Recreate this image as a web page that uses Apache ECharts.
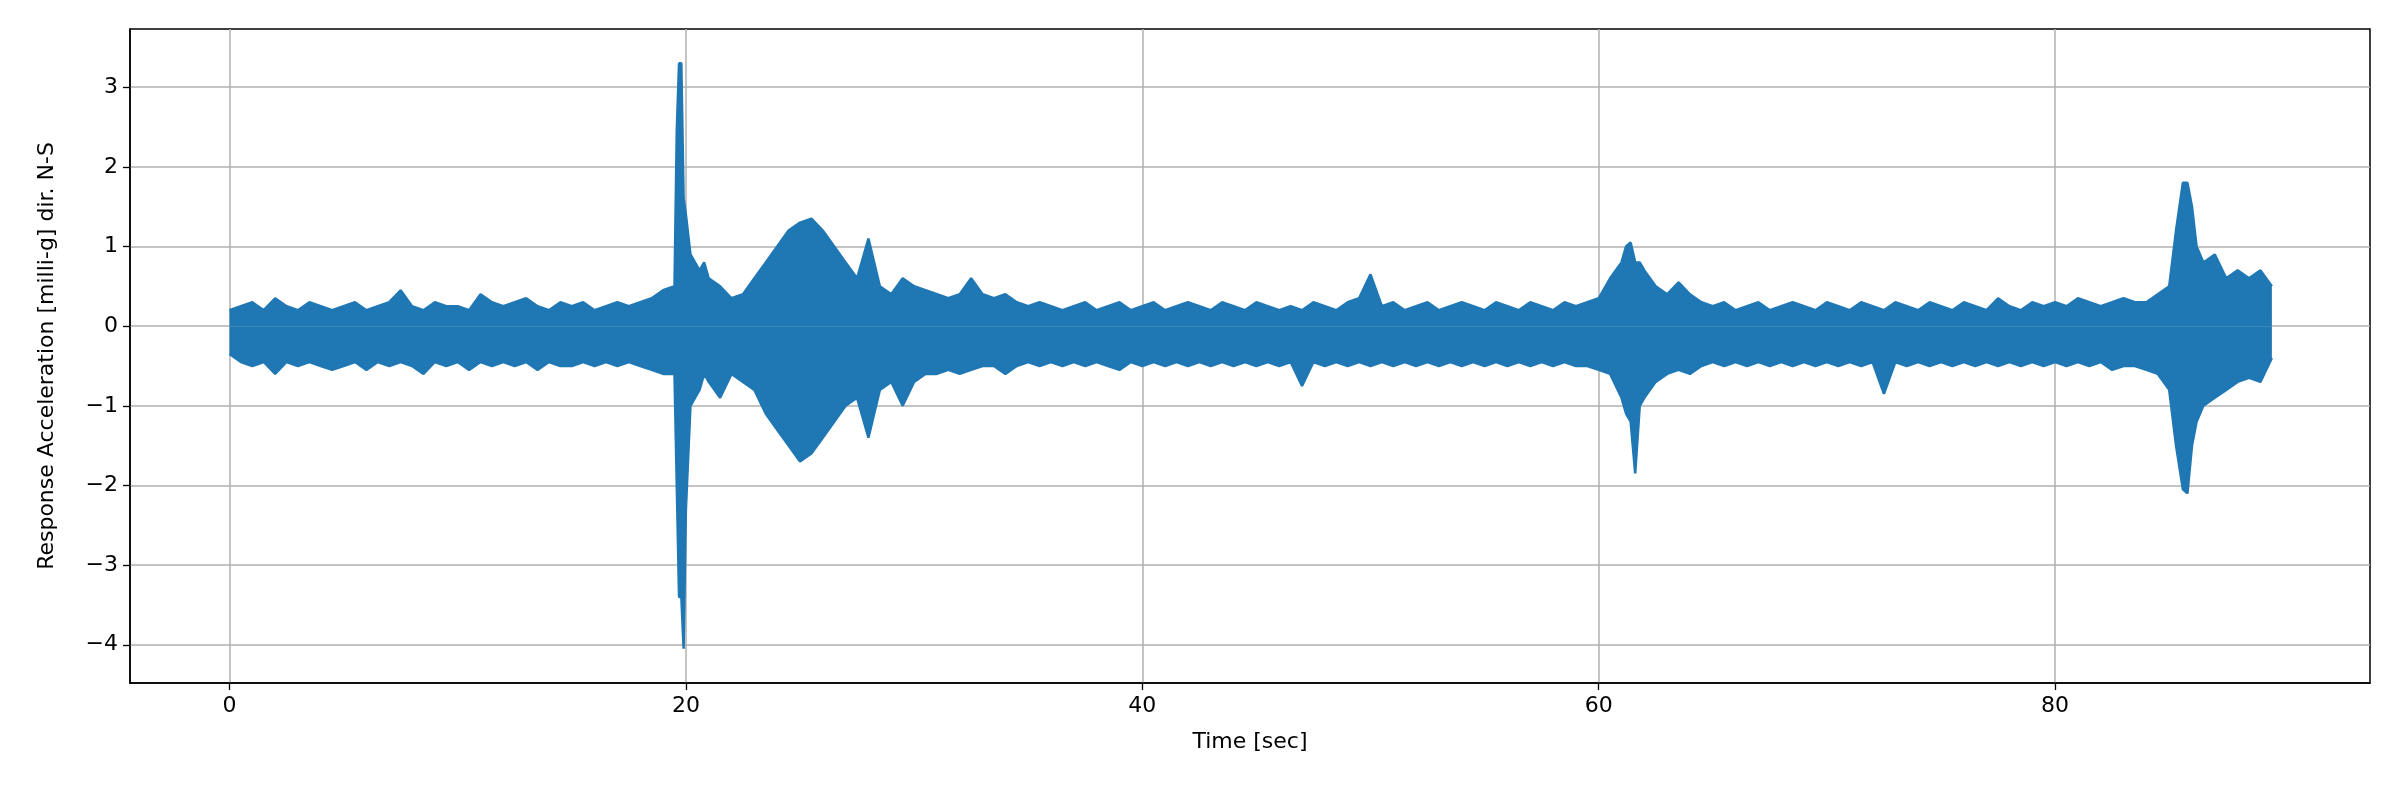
<!DOCTYPE html>
<html><head><meta charset="utf-8">
<script src="https://cdn.jsdelivr.net/npm/echarts@6/dist/echarts.min.js"></script>
<style>html,body{margin:0;background:#fff}#c{width:2400px;height:800px}</style>
</head><body><div id="c"></div>
<script>
const xTicks=[0,20,40,60,80];
const yTicks=[-4,-3,-2,-1,0,1,2,3];
const times=[
0,0.5,1,1.5,2,2.5,3,3.5,4,4.5,
5,5.5,6,6.5,7,7.5,8,8.5,9,9.5,
10,10.5,11,11.5,12,12.5,13,13.5,14,14.5,
15,15.5,16,16.5,17,17.5,18,18.5,19,19.5,
19.6,19.7,19.8,19.9,20.0,20.2,20.4,20.6,20.8,21.0,
21.5,22,22.5,23,23.5,24,24.5,25,25.5,26,
26.5,27,27.5,28,28.5,29,29.5,30,30.5,31,
31.5,32,32.5,33,33.5,34,34.5,35,35.5,36,
36.5,37,37.5,38,38.5,39,39.5,40,40.5,41,
41.5,42,42.5,43,43.5,44,44.5,45,45.5,46,
46.5,47,47.5,48,48.5,49,49.5,50,50.5,51,
51.5,52,52.5,53,53.5,54,54.5,55,55.5,56,
56.5,57,57.5,58,58.5,59,59.5,60,60.5,61,
61.2,61.4,61.6,61.8,62,62.5,63,63.5,64,64.5,
65,65.5,66,66.5,67,67.5,68,68.5,69,69.5,
70,70.5,71,71.5,72,72.5,73,73.5,74,74.5,
75,75.5,76,76.5,77,77.5,78,78.5,79,79.5,
80,80.5,81,81.5,82,82.5,83,83.5,84,84.5,
85,85.3,85.6,85.8,86,86.2,86.5,87,87.5,88,
88.5,89,89.5];
const upper=[
0.2,0.25,0.3,0.2,0.35,0.25,0.2,0.3,0.25,0.2,
0.25,0.3,0.2,0.25,0.3,0.45,0.25,0.2,0.3,0.25,
0.25,0.2,0.4,0.3,0.25,0.3,0.35,0.25,0.2,0.3,
0.25,0.3,0.2,0.25,0.3,0.25,0.3,0.35,0.45,0.5,
2.45,3.3,3.3,1.6,1.4,0.9,0.8,0.7,0.8,0.6,
0.5,0.35,0.4,0.6,0.8,1.0,1.2,1.3,1.35,1.2,
1.0,0.8,0.6,1.1,0.5,0.4,0.6,0.5,0.45,0.4,
0.35,0.4,0.6,0.4,0.35,0.4,0.3,0.25,0.3,0.25,
0.2,0.25,0.3,0.2,0.25,0.3,0.2,0.25,0.3,0.2,
0.25,0.3,0.25,0.2,0.3,0.25,0.2,0.3,0.25,0.2,
0.25,0.2,0.3,0.25,0.2,0.3,0.35,0.65,0.25,0.3,
0.2,0.25,0.3,0.2,0.25,0.3,0.25,0.2,0.3,0.25,
0.2,0.3,0.25,0.2,0.3,0.25,0.3,0.35,0.6,0.8,
1.0,1.05,0.8,0.8,0.7,0.5,0.4,0.55,0.4,0.3,
0.25,0.3,0.2,0.25,0.3,0.2,0.25,0.3,0.25,0.2,
0.3,0.25,0.2,0.3,0.25,0.2,0.3,0.25,0.2,0.3,
0.25,0.2,0.3,0.25,0.2,0.35,0.25,0.2,0.3,0.25,
0.3,0.25,0.35,0.3,0.25,0.3,0.35,0.3,0.3,0.4,
0.5,1.2,1.8,1.8,1.5,1.0,0.8,0.9,0.6,0.7,
0.6,0.7,0.5];
const lower=[
-0.35,-0.45,-0.5,-0.45,-0.6,-0.45,-0.5,-0.45,-0.5,-0.55,
-0.5,-0.45,-0.55,-0.45,-0.5,-0.45,-0.5,-0.6,-0.45,-0.5,
-0.45,-0.55,-0.45,-0.5,-0.45,-0.5,-0.45,-0.55,-0.45,-0.5,
-0.5,-0.45,-0.5,-0.45,-0.5,-0.45,-0.5,-0.55,-0.6,-0.6,
-2.0,-3.4,-3.4,-4.05,-2.3,-1.0,-0.9,-0.8,-0.6,-0.7,
-0.9,-0.6,-0.7,-0.8,-1.1,-1.3,-1.5,-1.7,-1.6,-1.4,
-1.2,-1.0,-0.9,-1.4,-0.8,-0.7,-1.0,-0.7,-0.6,-0.6,
-0.55,-0.6,-0.55,-0.5,-0.5,-0.6,-0.5,-0.45,-0.5,-0.45,
-0.5,-0.45,-0.5,-0.45,-0.5,-0.55,-0.45,-0.5,-0.45,-0.5,
-0.45,-0.5,-0.45,-0.5,-0.45,-0.5,-0.45,-0.5,-0.45,-0.5,
-0.45,-0.75,-0.45,-0.5,-0.45,-0.5,-0.45,-0.5,-0.45,-0.5,
-0.45,-0.5,-0.45,-0.5,-0.45,-0.5,-0.45,-0.5,-0.45,-0.5,
-0.45,-0.5,-0.45,-0.5,-0.45,-0.5,-0.5,-0.55,-0.6,-0.9,
-1.1,-1.2,-1.85,-1.0,-0.9,-0.7,-0.6,-0.55,-0.6,-0.5,
-0.45,-0.5,-0.45,-0.5,-0.45,-0.5,-0.45,-0.5,-0.45,-0.5,
-0.45,-0.5,-0.45,-0.5,-0.45,-0.85,-0.45,-0.5,-0.45,-0.5,
-0.45,-0.5,-0.45,-0.5,-0.45,-0.5,-0.45,-0.5,-0.45,-0.5,
-0.45,-0.5,-0.45,-0.5,-0.45,-0.55,-0.5,-0.5,-0.55,-0.6,
-0.8,-1.5,-2.05,-2.1,-1.5,-1.2,-1.0,-0.9,-0.8,-0.7,
-0.65,-0.7,-0.4];
const C='#1f77b4';
const lowData=times.map((t,i)=>[t,lower[i]]);
const upData=times.map((t,i)=>[t,upper[i]]);
const chart=echarts.init(document.getElementById('c'));
const F='DejaVu Sans';
chart.setOption({animation:false,
grid:{left:130,right:30,top:29,bottom:117,show:true,borderColor:'#000',borderWidth:1.5},
xAxis:{type:'value',min:-4.36,max:93.8,name:'Time [sec]',nameLocation:'middle',nameGap:48,
 nameTextStyle:{fontFamily:F,fontSize:22,color:'#000'},
 axisLine:{show:true,onZero:false,lineStyle:{color:'#000',width:1.5}},
 axisTick:{show:true,customValues:xTicks,length:7,lineStyle:{color:'#000',width:1.3}},
 axisLabel:{customValues:xTicks,fontFamily:F,fontSize:22,color:'#000',margin:12},
 splitLine:{show:true,lineStyle:{color:'#b0b0b0',width:1.5}}},
yAxis:{type:'value',min:-4.48,max:3.73,name:'Response Acceleration [milli-g] dir. N-S',nameLocation:'middle',nameGap:72,
 nameTextStyle:{fontFamily:F,fontSize:22,color:'#000'},
 axisLine:{show:true,onZero:false,lineStyle:{color:'#000',width:1.5}},
 axisTick:{show:true,customValues:yTicks,length:7,lineStyle:{color:'#000',width:1.3}},
 axisLabel:{customValues:yTicks,fontFamily:F,fontSize:22,color:'#000',margin:12,formatter:v=>v<0?'\u2212'+Math.abs(v):String(v)},
 splitLine:{show:true,lineStyle:{color:'#b0b0b0',width:1.5}}},
series:[
 {type:'line',data:lowData,showSymbol:false,lineStyle:{color:C,width:2.5},areaStyle:{color:C,opacity:1,origin:0}},
 {type:'line',data:upData,showSymbol:false,lineStyle:{color:C,width:2.5},areaStyle:{color:C,opacity:1,origin:0}}
]});
</script></body></html>
